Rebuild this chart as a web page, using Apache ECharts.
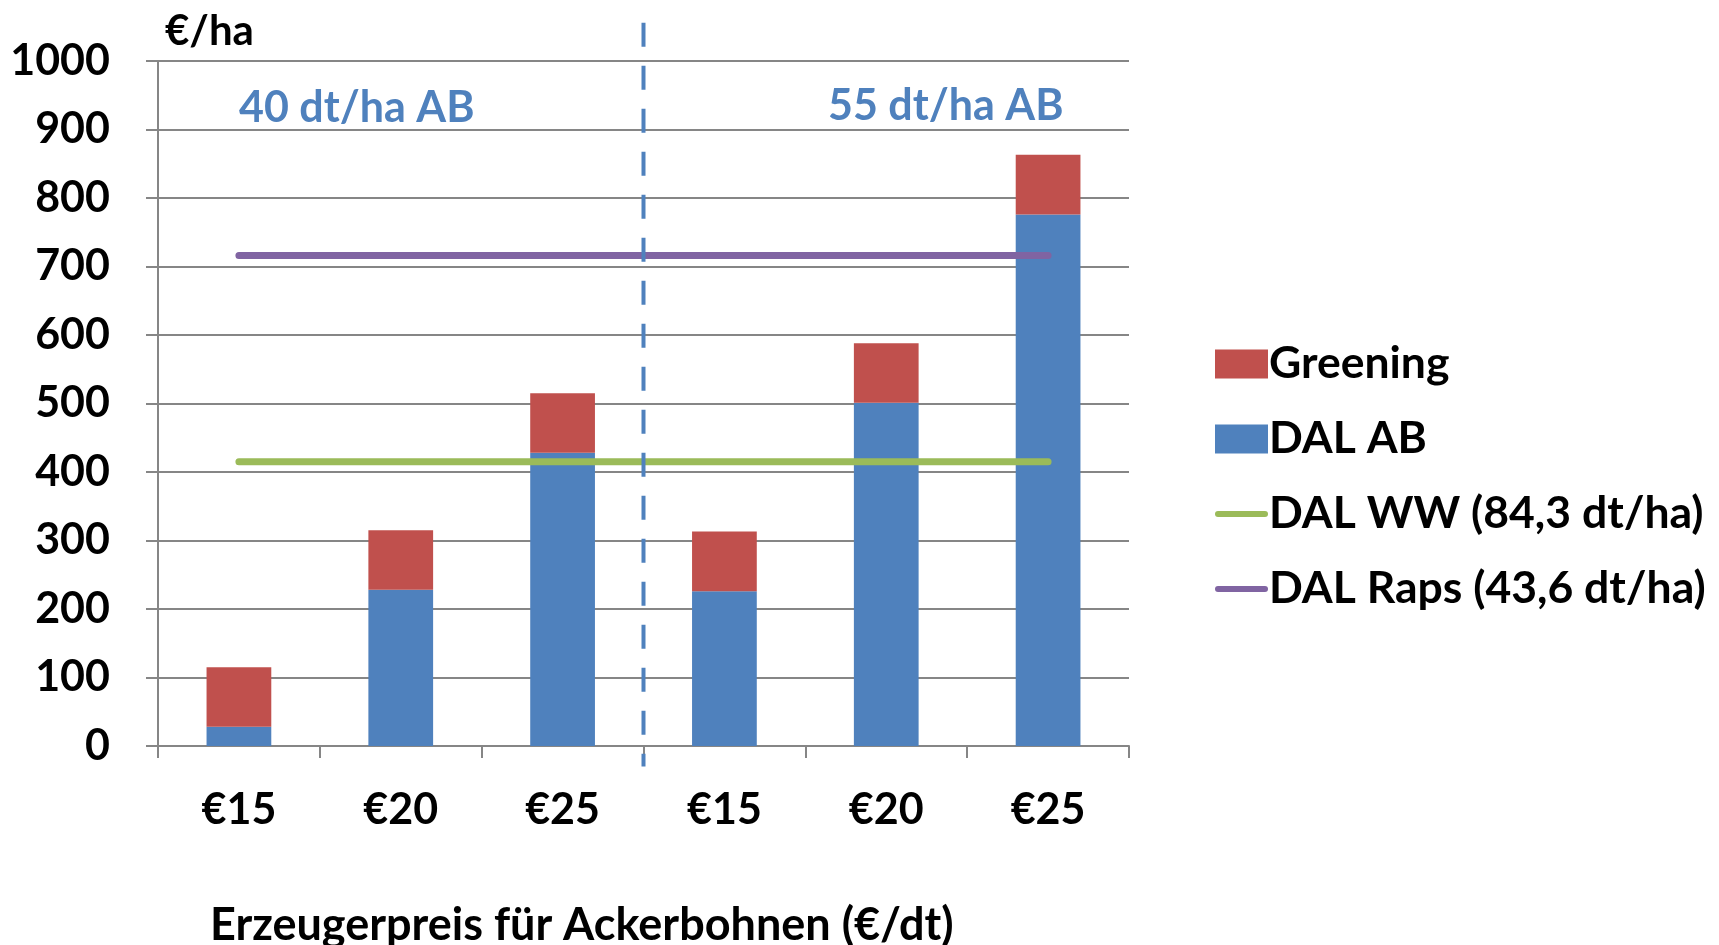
<!DOCTYPE html>
<html>
<head>
<meta charset="utf-8">
<script src="https://cdn.jsdelivr.net/npm/echarts@6/dist/echarts.min.js"></script>
<style>html,body{margin:0;padding:0;background:#fff}#c{width:1719px;height:945px}</style>
</head>
<body>
<div id="c"></div>
<script>
const categories = ['€15', '€20', '€25', '€15', '€20', '€25'];
const dalAB = [28, 228, 428, 226, 501, 776];
const greening = [87, 87, 87, 87, 87, 87];
const dalWW = [415, 415, 415, 415, 415, 415];
const dalRaps = [716, 716, 716, 716, 716, 716];
const dividerLine = [[3, 1056], [3, -30]];
const yTicks = { min: 0, max: 1000, interval: 100 };

const FONT = 'Lato';
const LINE_ICON = 'path://M3,0 L50,0 A3,3 0 0 1 50,6 L3,6 A3,3 0 0 1 3,0 Z';
const chart = echarts.init(document.getElementById('c'));
const txt = { fontFamily: FONT, fontWeight: 'bold', fontSize: 43, color: '#000' };
chart.setOption({
  animation: false,
  backgroundColor: '#fff',
  textStyle: { fontFamily: FONT },
  title: [
    { text: '€/ha', left: 160, top: 5, textStyle: Object.assign({}, txt, { fontSize: 42 }) },
    { text: '40 dt/ha AB', left: 234, top: 82, textStyle: Object.assign({}, txt, { color: '#4F81BD' }) },
    { text: '55 dt/ha AB', left: 823, top: 80, textStyle: Object.assign({}, txt, { color: '#4F81BD' }) },
    { text: 'Erzeugerpreis für Ackerbohnen (€/dt)', left: 205, top: 898, textStyle: Object.assign({}, txt, { fontSize: 45 }) }
  ],
  legend: {
    orient: 'vertical',
    left: 1210,
    top: 336,
    itemWidth: 53,
    itemHeight: 29,
    itemGap: 29,
    textStyle: Object.assign({}, txt, { fontSize: 44.5, lineHeight: 46, padding: [0, 0, 0, -4] }),
    data: [
      { name: 'Greening', icon: 'rect' },
      { name: 'DAL AB', icon: 'rect' },
      { name: 'DAL WW (84,3 dt/ha)', icon: LINE_ICON },
      { name: 'DAL Raps (43,6 dt/ha)', icon: LINE_ICON }
    ]
  },
  grid: { left: 158, right: 590, top: 61, bottom: 199, outerBoundsMode: 'none', containLabel: false },
  xAxis: [
    {
      type: 'category',
      data: categories,
      axisLine: { lineStyle: { color: '#868686', width: 2 } },
      axisTick: { show: true, length: 12, lineStyle: { color: '#868686', width: 2 } },
      axisLabel: Object.assign({}, txt, { margin: 43 }),
      splitLine: { show: false }
    },
    { type: 'value', min: 0, max: 6, show: false }
  ],
  yAxis: [
    {
      type: 'value',
      min: yTicks.min, max: yTicks.max, interval: yTicks.interval,
      axisLine: { show: true, lineStyle: { color: '#868686', width: 2 } },
      axisTick: { show: true, length: 12, lineStyle: { color: '#868686', width: 2 } },
      axisLabel: Object.assign({}, txt, { margin: 48, formatter: function (v) { return String(v); } }),
      splitLine: { lineStyle: { color: '#868686', width: 2 } }
    },
    { type: 'value', min: yTicks.min, max: yTicks.max, show: false }
  ],
  series: [
    { name: 'DAL AB', type: 'bar', stack: 'a', data: dalAB, barWidth: '40%', itemStyle: { color: '#4F81BD' }, z: 2 },
    { name: 'Greening', type: 'bar', stack: 'a', data: greening, barWidth: '40%', itemStyle: { color: '#C0504D' }, z: 2 },
    { name: 'DAL WW (84,3 dt/ha)', type: 'line', data: dalWW, symbol: 'none', itemStyle: { color: '#9BBB59' }, lineStyle: { color: '#9BBB59', width: 7, cap: 'round' }, z: 3 },
    { name: 'DAL Raps (43,6 dt/ha)', type: 'line', data: dalRaps, symbol: 'none', itemStyle: { color: '#8064A2' }, lineStyle: { color: '#8064A2', width: 7, cap: 'round' }, z: 3 },
    { name: 'divider', type: 'line', xAxisIndex: 1, yAxisIndex: 1, data: dividerLine, symbol: 'none', clip: false, silent: true,
      lineStyle: { color: '#4F81BD', width: 4, type: [24, 19] }, z: 4 }
  ]
});
</script>
</body>
</html>
